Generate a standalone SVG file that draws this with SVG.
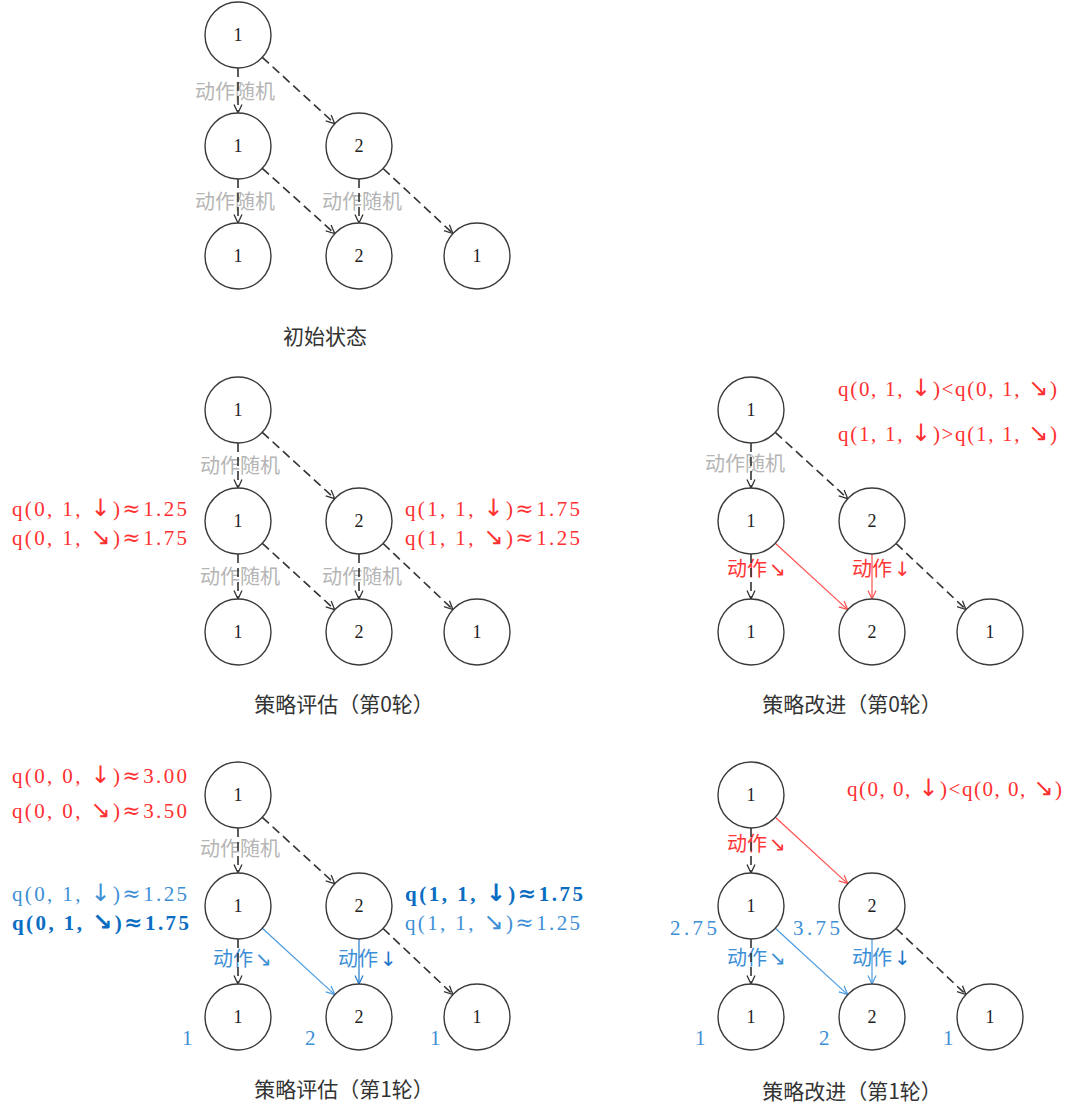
<svg xmlns="http://www.w3.org/2000/svg" width="1080" height="1116" viewBox="0 0 1080 1116">
<defs>
<style>
.bg{fill:#fff}
.nd circle{fill:#fff;stroke:#3a3a3a;stroke-width:1.4}
.nd text{font-family:"Liberation Serif","Noto Sans CJK SC",serif;font-size:18px;fill:#222;text-anchor:middle}
.dash{stroke:#333;stroke-width:1.6;stroke-dasharray:9 5;fill:none;marker-end:url(#ak)}
.red{stroke:#ff5050;stroke-width:1.2;fill:none;marker-end:url(#ar)}
.blue{stroke:#4a9be0;stroke-width:1.2;fill:none;marker-end:url(#ab)}
.blue2{stroke:#1f78cc;stroke-width:1.2;fill:none;marker-end:url(#ab2)}
.gl{font-family:"Noto Sans CJK SC",sans-serif;font-size:20px;fill:#b5b5b5;text-anchor:middle}
.rl{font-family:"Noto Sans CJK SC",sans-serif;font-size:20px;fill:#ff3535}
.bl{font-family:"Noto Sans CJK SC",sans-serif;font-size:20px;fill:#3d8fd6}
.q{font-family:"Liberation Serif","DejaVu Serif","Noto Sans CJK SC",serif;font-size:21px}
.ar{font-family:"DejaVu Sans",sans-serif;font-size:24px}
.ap{font-family:"DejaVu Serif",serif;font-size:22px}
.qr{fill:#ff3030}
.qb{fill:#3d8fd6}
.qbb{fill:#0b6dc2;font-weight:bold}
.val{font-family:"Liberation Serif","Noto Sans CJK SC",serif;font-size:21px;fill:#3d8fd6}
.cap{font-family:"Noto Sans CJK SC",sans-serif;font-size:21px;fill:#333;text-anchor:middle}
.sm{font-family:"DejaVu Sans",sans-serif;font-size:20px}
</style>
<marker id="ak" viewBox="0 0 10 10" refX="9.5" refY="5" markerWidth="10" markerHeight="10" markerUnits="userSpaceOnUse" orient="auto"><path d="M1,1 L9.5,5 L1,9" fill="none" stroke="#333" stroke-width="1.3"/></marker>
<marker id="ar" viewBox="0 0 10 10" refX="9.5" refY="5" markerWidth="10" markerHeight="10" markerUnits="userSpaceOnUse" orient="auto"><path d="M1,1 L9.5,5 L1,9" fill="none" stroke="#ff5050" stroke-width="1.2"/></marker>
<marker id="ab" viewBox="0 0 10 10" refX="9.5" refY="5" markerWidth="10" markerHeight="10" markerUnits="userSpaceOnUse" orient="auto"><path d="M1,1 L9.5,5 L1,9" fill="none" stroke="#4a9be0" stroke-width="1.2"/></marker>
<marker id="ab2" viewBox="0 0 10 10" refX="9.5" refY="5" markerWidth="10" markerHeight="10" markerUnits="userSpaceOnUse" orient="auto"><path d="M1,1 L9.5,5 L1,9" fill="none" stroke="#1f78cc" stroke-width="1.2"/></marker>
</defs>
<rect class="bg" x="0" y="0" width="1080" height="1116"/>

<g id="labels">
<text class="gl" x="235" y="99">动作随机</text>
<text class="gl" x="235" y="209">动作随机</text>
<text class="gl" x="362" y="209">动作随机</text>

<text class="gl" x="240" y="473">动作随机</text>
<text class="gl" x="240" y="584">动作随机</text>
<text class="gl" x="362" y="584">动作随机</text>

<text class="gl" x="745" y="471">动作随机</text>
<text class="rl" x="727" y="576">动作<tspan class="sm" dx="2">↘</tspan></text>
<text class="rl" x="852" y="576">动作<tspan class="sm" dx="2">↓</tspan></text>

<text class="gl" x="240" y="856">动作随机</text>
<text class="bl" x="213" y="966">动作<tspan class="sm" dx="2">↘</tspan></text>
<text class="bl" x="338" y="966">动作<tspan class="sm" dx="2" fill="#1f78cc">↓</tspan></text>

<text class="rl" x="727" y="851">动作<tspan class="sm" dx="2">↘</tspan></text>
<text class="bl" x="727" y="965">动作<tspan class="sm" dx="2">↘</tspan></text>
<text class="bl" x="852" y="965">动作<tspan class="sm" dx="2" fill="#1f78cc">↓</tspan></text>
</g>

<g id="connectors">
<line class="dash" x1="238" y1="68" x2="238" y2="113"/>
<line class="dash" x1="262.3" y1="57.3" x2="334.7" y2="123.6"/>
<line class="dash" x1="238" y1="179" x2="238" y2="223"/>
<line class="dash" x1="262.3" y1="168.3" x2="334.7" y2="233.6"/>
<line class="dash" x1="359" y1="179" x2="359" y2="223"/>
<line class="dash" x1="383.1" y1="168.5" x2="452.9" y2="233.5"/>

<line class="dash" x1="238" y1="443" x2="238" y2="488"/>
<line class="dash" x1="262.3" y1="432.3" x2="334.7" y2="498.6"/>
<line class="dash" x1="238" y1="554" x2="238" y2="599"/>
<line class="dash" x1="262.3" y1="543.3" x2="334.7" y2="609.6"/>
<line class="dash" x1="359" y1="554" x2="359" y2="599"/>
<line class="dash" x1="383.1" y1="543.5" x2="452.9" y2="609.5"/>

<line class="dash" x1="751" y1="443" x2="751" y2="488"/>
<line class="dash" x1="775.3" y1="432.3" x2="847.7" y2="498.6"/>
<line class="dash" x1="751" y1="554" x2="751" y2="599"/>
<line class="red" x1="775.3" y1="543.3" x2="847.7" y2="609.6"/>
<line class="red" x1="872" y1="554" x2="872" y2="599"/>
<line class="dash" x1="896.1" y1="543.5" x2="965.9" y2="609.5"/>

<line class="dash" x1="238" y1="828" x2="238" y2="873"/>
<line class="dash" x1="262.3" y1="817.3" x2="334.7" y2="883.6"/>
<line class="dash" x1="238" y1="939" x2="238" y2="984"/>
<line class="blue" x1="262.3" y1="928.3" x2="334.7" y2="994.6"/>
<line class="blue2" x1="359" y1="939" x2="359" y2="984"/>
<line class="dash" x1="383.1" y1="928.5" x2="452.9" y2="994.5"/>

<line class="dash" x1="751" y1="828" x2="751" y2="873"/>
<line class="red" x1="775.3" y1="817.3" x2="847.7" y2="883.6"/>
<line class="dash" x1="751" y1="939" x2="751" y2="984"/>
<line class="blue" x1="775.3" y1="928.3" x2="847.7" y2="994.6"/>
<line class="blue" x1="872" y1="939" x2="872" y2="984"/>
<line class="dash" x1="896.1" y1="928.5" x2="965.9" y2="994.5"/>
</g>

<g id="t-r0" class="nd"><circle cx="238" cy="35" r="33"/><text x="238" y="41">1</text></g>
<g id="t-r1a" class="nd"><circle cx="238" cy="146" r="33"/><text x="238" y="152">1</text></g>
<g id="t-r1b" class="nd"><circle cx="359" cy="146" r="33"/><text x="359" y="152">2</text></g>
<g id="t-r2a" class="nd"><circle cx="238" cy="256" r="33"/><text x="238" y="262">1</text></g>
<g id="t-r2b" class="nd"><circle cx="359" cy="256" r="33"/><text x="359" y="262">2</text></g>
<g id="t-r2c" class="nd"><circle cx="477" cy="256" r="33"/><text x="477" y="262">1</text></g>

<g id="ml-r0" class="nd"><circle cx="238" cy="410" r="33"/><text x="238" y="416">1</text></g>
<g id="ml-r1a" class="nd"><circle cx="238" cy="521" r="33"/><text x="238" y="527">1</text></g>
<g id="ml-r1b" class="nd"><circle cx="359" cy="521" r="33"/><text x="359" y="527">2</text></g>
<g id="ml-r2a" class="nd"><circle cx="238" cy="632" r="33"/><text x="238" y="638">1</text></g>
<g id="ml-r2b" class="nd"><circle cx="359" cy="632" r="33"/><text x="359" y="638">2</text></g>
<g id="ml-r2c" class="nd"><circle cx="477" cy="632" r="33"/><text x="477" y="638">1</text></g>

<g id="mr-r0" class="nd"><circle cx="751" cy="410" r="33"/><text x="751" y="416">1</text></g>
<g id="mr-r1a" class="nd"><circle cx="751" cy="521" r="33"/><text x="751" y="527">1</text></g>
<g id="mr-r1b" class="nd"><circle cx="872" cy="521" r="33"/><text x="872" y="527">2</text></g>
<g id="mr-r2a" class="nd"><circle cx="751" cy="632" r="33"/><text x="751" y="638">1</text></g>
<g id="mr-r2b" class="nd"><circle cx="872" cy="632" r="33"/><text x="872" y="638">2</text></g>
<g id="mr-r2c" class="nd"><circle cx="990" cy="632" r="33"/><text x="990" y="638">1</text></g>

<g id="bl-r0" class="nd"><circle cx="238" cy="795" r="33"/><text x="238" y="801">1</text></g>
<g id="bl-r1a" class="nd"><circle cx="238" cy="906" r="33"/><text x="238" y="912">1</text></g>
<g id="bl-r1b" class="nd"><circle cx="359" cy="906" r="33"/><text x="359" y="912">2</text></g>
<g id="bl-r2a" class="nd"><circle cx="238" cy="1017" r="33"/><text x="238" y="1023">1</text></g>
<g id="bl-r2b" class="nd"><circle cx="359" cy="1017" r="33"/><text x="359" y="1023">2</text></g>
<g id="bl-r2c" class="nd"><circle cx="477" cy="1017" r="33"/><text x="477" y="1023">1</text></g>

<g id="br-r0" class="nd"><circle cx="751" cy="795" r="33"/><text x="751" y="801">1</text></g>
<g id="br-r1a" class="nd"><circle cx="751" cy="906" r="33"/><text x="751" y="912">1</text></g>
<g id="br-r1b" class="nd"><circle cx="872" cy="906" r="33"/><text x="872" y="912">2</text></g>
<g id="br-r2a" class="nd"><circle cx="751" cy="1017" r="33"/><text x="751" y="1023">1</text></g>
<g id="br-r2b" class="nd"><circle cx="872" cy="1017" r="33"/><text x="872" y="1023">2</text></g>
<g id="br-r2c" class="nd"><circle cx="990" cy="1017" r="33"/><text x="990" y="1023">1</text></g>

<g id="annotations">
<text class="q qr" x="12" y="516" textLength="175" lengthAdjust="spacing">q(0, 1, <tspan class="ar">↓</tspan>)<tspan class="ap">≈</tspan>1.25</text>
<text class="q qr" x="12" y="545" textLength="175" lengthAdjust="spacing">q(0, 1, <tspan class="ar">↘</tspan>)<tspan class="ap">≈</tspan>1.75</text>
<text class="q qr" x="405" y="516" textLength="175" lengthAdjust="spacing">q(1, 1, <tspan class="ar">↓</tspan>)<tspan class="ap">≈</tspan>1.75</text>
<text class="q qr" x="405" y="545" textLength="175" lengthAdjust="spacing">q(1, 1, <tspan class="ar">↘</tspan>)<tspan class="ap">≈</tspan>1.25</text>

<text class="q qr" x="838" y="396" textLength="219" lengthAdjust="spacing">q(0, 1, <tspan class="ar">↓</tspan>)&lt;q(0, 1, <tspan class="ar">↘</tspan>)</text>
<text class="q qr" x="838" y="441" textLength="219" lengthAdjust="spacing">q(1, 1, <tspan class="ar">↓</tspan>)&gt;q(1, 1, <tspan class="ar">↘</tspan>)</text>

<text class="q qr" x="12" y="783" textLength="175" lengthAdjust="spacing">q(0, 0, <tspan class="ar">↓</tspan>)<tspan class="ap">≈</tspan>3.00</text>
<text class="q qr" x="12" y="818" textLength="175" lengthAdjust="spacing">q(0, 0, <tspan class="ar">↘</tspan>)<tspan class="ap">≈</tspan>3.50</text>
<text class="q qb" x="12" y="901" textLength="175" lengthAdjust="spacing">q(0, 1, <tspan class="ar">↓</tspan>)<tspan class="ap">≈</tspan>1.25</text>
<text class="q qbb" x="12" y="930" textLength="177" lengthAdjust="spacing">q(0, 1, <tspan class="ar">↘</tspan>)<tspan class="ap">≈</tspan>1.75</text>
<text class="q qbb" x="405" y="901" textLength="178" lengthAdjust="spacing">q(1, 1, <tspan class="ar">↓</tspan>)<tspan class="ap">≈</tspan>1.75</text>
<text class="q qb" x="405" y="930" textLength="175" lengthAdjust="spacing">q(1, 1, <tspan class="ar">↘</tspan>)<tspan class="ap">≈</tspan>1.25</text>

<text class="q qr" x="847" y="796" textLength="215" lengthAdjust="spacing">q(0, 0, <tspan class="ar">↓</tspan>)&lt;q(0, 0, <tspan class="ar">↘</tspan>)</text>

<text class="val" x="182" y="1045">1</text>
<text class="val" x="305" y="1045">2</text>
<text class="val" x="430" y="1045">1</text>

<text class="val" x="670" y="935" textLength="47" lengthAdjust="spacing">2.75</text>
<text class="val" x="793" y="935" textLength="47" lengthAdjust="spacing">3.75</text>
<text class="val" x="695" y="1045">1</text>
<text class="val" x="819" y="1045">2</text>
<text class="val" x="943" y="1045">1</text>
</g>

<g id="captions">
<text class="cap" x="325" y="344">初始状态</text>
<text class="cap" x="344" y="712">策略评估（第0轮）</text>
<text class="cap" x="852" y="712">策略改进（第0轮）</text>
<text class="cap" x="344" y="1097">策略评估（第1轮）</text>
<text class="cap" x="852" y="1099">策略改进（第1轮）</text>
</g>
</svg>
